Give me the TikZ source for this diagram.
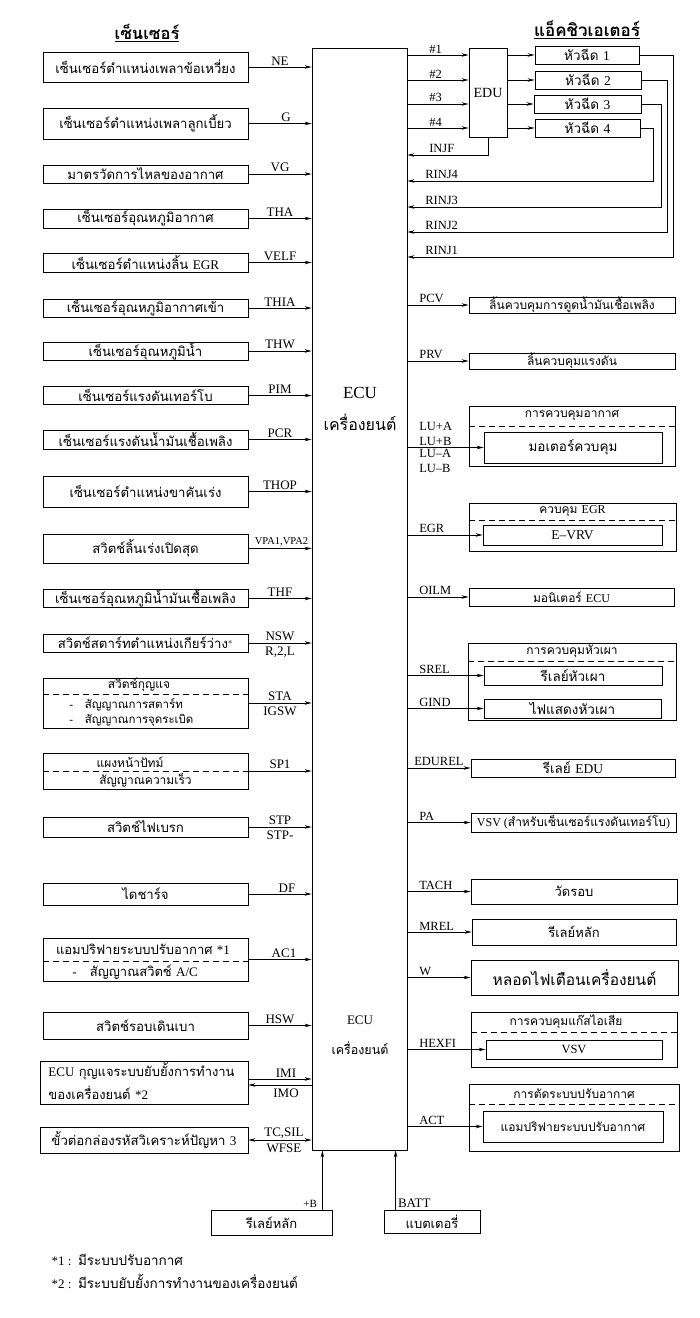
\documentclass[tikz,border=0pt]{standalone}
\usepackage{fontspec}
\setmainfont{Liberation Serif}
\newfontfamily\thaifont[Script=Thai]{Loma}
\newcommand\latn[1]{{\rmfamily #1}}
\usetikzlibrary{positioning,arrows.meta}

\begin{document}
\begin{tikzpicture}[x=1pt, y=-1pt, line width=0.8pt,
  arr/.style={-{Stealth[length=7pt,width=3.5pt]}},
  sbox/.style={draw, inner sep=0pt, minimum width=205,
               font=\thaifont\fontsize{13.2}{15}\selectfont},
  abox/.style={draw, inner sep=0pt, font=\thaifont\fontsize{12}{14}\selectfont},
  ibox/.style={abox, font=\thaifont\fontsize{13.5}{15}\selectfont},
  ttl/.style={inner sep=0pt, font=\thaifont\fontsize{12}{14}\selectfont},
  sep/.style={dash pattern=on 6pt off 4pt},
  lab/.style={midway, above, inner sep=1.5pt, font=\fontsize{13}{15}\selectfont},
  labb/.style={midway, below, inner sep=3pt, font=\fontsize{13}{15}\selectfont},
  rlab/.style={at start, anchor=south west, inner sep=1.5pt, xshift=10pt,
               font=\fontsize{12.5}{14}\selectfont},
  rback/.style={at end, anchor=south west, inner sep=1.5pt, xshift=16pt,
                font=\fontsize{12.5}{14}\selectfont},
  title/.style={font=\thaifont\bfseries\fontsize{16.5}{19}\selectfont},
  ]
  \useasboundingbox (0,0) rectangle (700,1318);

  % headings
  \node[title] (tsens) at (147,33) {\underline{เซ็นเซอร์}};
  \node[title, font=\thaifont\bfseries\fontsize{17}{19}\selectfont] (tact) at (587,30) {\underline{แอ็คชิวเอเตอร์}};

  % engine ECU
  \node[draw, inner sep=0pt, minimum width=95, minimum height=1102] (ecu) at (359.5,599) {};
  \node[font=\fontsize{17}{19}\selectfont] (ecua) at (360,393) {ECU};
  \node[font=\thaifont\fontsize{16}{18}\selectfont] (ecub) at (360,422) {เครื่องยนต์};
  \node[font=\fontsize{13}{15}\selectfont] (ecuc) at (360,1020) {ECU};
  \node[font=\thaifont\fontsize{12.5}{14}\selectfont] (ecud) at (360,1048) {เครื่องยนต์};

  % sensors
  \node[sbox, minimum height=30] (ne) at (145.5,67) {เซ็นเซอร์ตำแหน่งเพลาข้อเหวี่ยง};
  \node[sbox, minimum height=31] (g) at (145.5,123.5) {เซ็นเซอร์ตำแหน่งเพลาลูกเบี้ยว};
  \node[sbox, minimum height=18] (vg) at (145.5,174) {มาตรวัดการไหลของอากาศ};
  \node[sbox, minimum height=19] (tha) at (145.5,218.5) {เซ็นเซอร์อุณหภูมิอากาศ};
  \node[sbox, minimum height=19] (velf) at (145.5,262.5) {เซ็นเซอร์ตำแหน่งลิ้น \latn{EGR}};
  \node[sbox, minimum height=18] (thia) at (145.5,308) {เซ็นเซอร์อุณหภูมิอากาศเข้า};
  \node[sbox, minimum height=18] (thw) at (145.5,351) {เซ็นเซอร์อุณหภูมิน้ำ};
  \node[sbox, minimum height=18] (pim) at (145.5,395.5) {เซ็นเซอร์แรงดันเทอร์โบ};
  \node[sbox, minimum height=19] (pcr) at (145.5,439.5) {เซ็นเซอร์แรงดันน้ำมันเชื้อเพลิง};
  \node[sbox, minimum height=31] (thop) at (145.5,491.5) {เซ็นเซอร์ตำแหน่งขาคันเร่ง};
  \node[sbox, minimum height=29] (vpa) at (145.5,548.5) {สวิตช์ลิ้นเร่งเปิดสุด};
  \node[sbox, minimum height=17] (thf) at (145.5,598.5) {เซ็นเซอร์อุณหภูมิน้ำมันเชื้อเพลิง};
  \node[sbox, minimum height=18] (nsw) at (145.5,643) {สวิตช์สตาร์ทตำแหน่งเกียร์ว่าง\latn{$^*$}};
  \node[sbox, minimum height=50] (sta) at (145.5,703) {};
  \node[sbox, minimum height=36] (sp1) at (145.5,771) {};
  \node[sbox, minimum height=20] (stp) at (145.5,827) {สวิตช์ไฟเบรก};
  \node[sbox, minimum height=22] (df) at (145.5,894) {ไดชาร์จ};
  \node[sbox, minimum height=43] (ac1) at (145.5,959.5) {};
  \node[sbox, minimum height=27] (hsw) at (145.5,1025.5) {สวิตช์รอบเดินเบา};
  \node[sbox, minimum width=208, minimum height=43] (imi) at (144,1082.5) {};
  \node[sbox, minimum width=208, minimum height=26] (tc) at (144,1140) {ขั้วต่อกล่องรหัสวิเคราะห์ปัญหา \latn{3}};

  % split boxes
  \draw[sep] (sta.west |- 0,694) -- (sta.east |- 0,694);
  \node[ttl] (stat) at (139,685) {สวิตช์กุญแจ};
  \node[ttl, anchor=west, font=\thaifont\fontsize{11.5}{13}\selectfont] (staa) at (69,705) {\latn{-}\ \ \ สัญญาณการสตาร์ท};
  \node[ttl, anchor=west, font=\thaifont\fontsize{11.5}{13}\selectfont] (stab) at (69,720) {\latn{-}\ \ \ สัญญาณการจุดระเบิด};
  \draw[sep] (sp1.west) -- (sp1.east);
  \node[ttl] (sp1a) at (130,762) {แผงหน้าปัทม์};
  \node[ttl] (sp1b) at (145.5,780) {สัญญาณความเร็ว};
  \draw[sep] (ac1.west |- 0,961) -- (ac1.east |- 0,961);
  \node[ttl, font=\thaifont\fontsize{13}{15}\selectfont] (ac1a) at (143,949) {แอมปริฟายระบบปรับอากาศ \latn{*1}};
  \node[ttl, anchor=west, font=\thaifont\fontsize{13}{15}\selectfont] (ac1b) at (72,972) {\latn{-}\ \ \ สัญญาณสวิตช์ \latn{A/C}};
  \node[ttl, anchor=west, font=\thaifont\fontsize{13}{15}\selectfont] (imia) at (48,1071) {\latn{ECU} กุญแจระบบยับยั้งการทำงาน};
  \node[ttl, anchor=west, font=\thaifont\fontsize{13}{15}\selectfont] (imib) at (48,1093) {ของเครื่องยนต์ \latn{*2}};

  % sensor signals
  \draw[arr] (ne.east) -- node[lab]{NE} (ne -| ecu.west);
  \draw[arr] (g.east) -- node[lab, xshift=6pt]{G} (g -| ecu.west);
  \draw[arr] (vg.east) -- node[lab]{VG} (vg -| ecu.west);
  \draw[arr] (tha.east) -- node[lab]{THA} (tha -| ecu.west);
  \draw[arr] (velf.east) -- node[lab]{VELF} (velf -| ecu.west);
  \draw[arr] (thia.east) -- node[lab]{THIA} (thia -| ecu.west);
  \draw[arr] (thw.east) -- node[lab]{THW} (thw -| ecu.west);
  \draw[arr] (pim.east) -- node[lab]{PIM} (pim -| ecu.west);
  \draw[arr] (pcr.east) -- node[lab]{PCR} (pcr -| ecu.west);
  \draw[arr] (thop.east) -- node[lab]{THOP} (thop -| ecu.west);
  \draw[arr] (vpa.east) -- node[lab, font=\fontsize{10.5}{12}\selectfont, xshift=1.5pt]{VPA1,VPA2} (vpa -| ecu.west);
  \draw[arr] (thf.east) -- node[lab]{THF} (thf -| ecu.west);
  \draw[arr] (nsw.east) -- node[lab]{NSW} node[labb]{R,2,L} (nsw -| ecu.west);
  \draw[arr] (sta.east) -- node[lab]{STA} node[labb]{IGSW} (sta -| ecu.west);
  \draw[arr] (sp1.east) -- node[lab]{SP1} (sp1 -| ecu.west);
  \draw[arr] (stp.east) -- node[lab]{STP} node[labb]{STP-} (stp -| ecu.west);
  \draw[arr] (df.east) -- node[lab, xshift=7pt]{DF} (df -| ecu.west);
  \draw[arr] (ac1.east) -- node[lab, xshift=4pt]{AC1} (ac1 -| ecu.west);
  \draw[arr] (hsw.east) -- node[lab]{HSW} (hsw -| ecu.west);
  \draw[arr] ([yshift=3.5pt]imi.east) -- node[lab, xshift=6pt]{IMI} ([yshift=3.5pt]imi.east -| ecu.west);
  \draw[arr] ([yshift=-2.5pt]imi.east -| ecu.west) -- node[labb, xshift=6pt]{IMO} ([yshift=-2.5pt]imi.east);
  \draw[{Stealth[length=7pt,width=3.5pt]}-{Stealth[length=7pt,width=3.5pt]}] (tc.east) -- node[lab, xshift=4pt]{TC,SIL} node[labb, xshift=4pt]{WFSE} (tc -| ecu.west);

  % injectors and EDU
  \node[abox, minimum width=38, minimum height=89, font=\fontsize{14}{16}\selectfont] (edu) at (488,92.5) {EDU};
  \node[ibox, minimum width=104, minimum height=18] (inj1) at (587,55) {หัวฉีด \latn{1}};
  \node[ibox, minimum width=106, minimum height=18] (inj2) at (588,80) {หัวฉีด \latn{2}};
  \node[ibox, minimum width=107, minimum height=18] (inj3) at (587.5,104) {หัวฉีด \latn{3}};
  \node[ibox, minimum width=105, minimum height=18] (inj4) at (587.5,128) {หัวฉีด \latn{4}};

  \draw[arr] (inj1 -| ecu.east) -- node[rlab, xshift=10pt]{\#1} (inj1 -| edu.west);
  \draw[arr] (inj2 -| ecu.east) -- node[rlab, xshift=10pt]{\#2} (inj2 -| edu.west);
  \draw[arr] (inj3 -| ecu.east) -- node[rlab, xshift=10pt]{\#3} (inj3 -| edu.west);
  \draw[arr] (inj4 -| ecu.east) -- node[rlab, xshift=10pt]{\#4} (inj4 -| edu.west);
  \draw[arr] (inj1 -| edu.east) -- (inj1.west);
  \draw[arr] (inj2 -| edu.east) -- (inj2.west);
  \draw[arr] (inj3 -| edu.east) -- (inj3.west);
  \draw[arr] (inj4 -| edu.east) -- (inj4.west);

  \coordinate (cf) at (488,155);
  \coordinate (c4) at (653,181);
  \coordinate (c3) at (661,207);
  \coordinate (c2) at (667,232);
  \coordinate (c1) at (673,257);
  \draw[arr] (edu.south) -- (cf) -- node[rback, xshift=4pt]{INJF} (cf -| ecu.east);
  \draw[arr] (inj4.east) -| (c4) -- node[rback]{RINJ4} (c4 -| ecu.east);
  \draw[arr] (inj3.east) -| (c3) -- node[rback]{RINJ3} (c3 -| ecu.east);
  \draw[arr] (inj2.east) -| (c2) -- node[rback]{RINJ2} (c2 -| ecu.east);
  \draw[arr] (inj1.east) -| (c1) -- node[rback]{RINJ1} (c1 -| ecu.east);

  % actuators
  \node[abox, minimum width=206, minimum height=16] (pcv) at (572,305) {ลิ้นควบคุมการดูดน้ำมันเชื้อเพลิง};
  \node[abox, minimum width=206, minimum height=16] (prv) at (572,361) {ลิ้นควบคุมแรงดัน};
  \node[abox, minimum width=206, minimum height=60] (air) at (572,436) {};
  \node[ibox, minimum width=178, minimum height=31] (mot) at (573,447.5) {มอเตอร์ควบคุม};
  \node[abox, minimum width=207, minimum height=48] (egr) at (572.5,527) {};
  \node[ibox, minimum width=179, minimum height=20] (evrv) at (572.5,535) {\latn{E–VRV}};
  \node[abox, minimum width=205, minimum height=18] (oilm) at (571.5,597) {มอนิเตอร์ \latn{ECU}};
  \node[abox, minimum width=208, minimum height=77] (glow) at (572,681.5) {};
  \node[ibox, minimum width=178, minimum height=19] (srel) at (573,675.5) {รีเลย์หัวเผา};
  \node[ibox, minimum width=177, minimum height=19] (gind) at (572.5,708.5) {ไฟแสดงหัวเผา};
  \node[ibox, minimum width=204, minimum height=18] (edurel) at (573,768) {รีเลย์ \latn{EDU}};
  \node[abox, minimum width=205, minimum height=19] (pa) at (573.5,822.5) {\latn{VSV (}สำหรับเซ็นเซอร์แรงดันเทอร์โบ\latn{)}};
  \node[abox, minimum width=206, minimum height=25, font=\thaifont\fontsize{13}{15}\selectfont] (tach) at (574,891.5) {วัดรอบ};
  \node[abox, minimum width=204, minimum height=26, font=\thaifont\fontsize{13}{15}\selectfont] (mrel) at (574,932) {รีเลย์หลัก};
  \node[abox, minimum width=207, minimum height=35, font=\thaifont\fontsize{15.5}{17}\selectfont] (warn) at (574.5,977.5) {หลอดไฟเตือนเครื่องยนต์};
  \node[abox, minimum width=206, minimum height=55] (exh) at (574,1039.5) {};
  \node[abox, minimum width=176, minimum height=19, font=\fontsize{12.5}{14}\selectfont] (vsv) at (574,1049.5) {VSV};
  \node[abox, minimum width=210, minimum height=67] (acc) at (574,1117.5) {};
  \node[abox, minimum width=180, minimum height=31] (amp) at (573,1126.5) {แอมปริฟายระบบปรับอากาศ};

  \draw[sep] (air.west |- 0,426) -- (air.east |- 0,426);
  \draw[sep] (egr.west |- 0,520) -- (egr.east |- 0,520);
  \draw[sep] (glow.west |- 0,661) -- (glow.east |- 0,661);
  \draw[sep] (exh.west |- 0,1032) -- (exh.east |- 0,1032);
  \draw[sep] (acc.west |- 0,1104) -- (acc.east |- 0,1104);
  \node[ttl] (airt) at (572,415) {การควบคุมอากาศ};
  \node[ttl] (egrt) at (572.5,511) {ควบคุม \latn{EGR}};
  \node[ttl] (glowt) at (572,651) {การควบคุมหัวเผา};
  \node[ttl] (exht) at (566,1022) {การควบคุมแก๊สไอเสีย};
  \node[ttl] (acct) at (574,1094) {การตัดระบบปรับอากาศ};

  \draw[arr] (pcv -| ecu.east) -- node[rlab]{PCV} (pcv.west);
  \draw[arr] (prv -| ecu.east) -- node[rlab]{PRV} (prv.west);
  \draw[arr] (mot -| ecu.east) -- node[rlab, align=left, font=\fontsize{12.5}{14.5}\selectfont]{LU+A\\LU+B}
    node[rlab, anchor=north west, align=left, font=\fontsize{12.5}{14.5}\selectfont]{LU–A\\LU–B} (mot.west);
  \draw[arr] (evrv -| ecu.east) -- node[rlab]{EGR} (evrv.west);
  \draw[arr] (oilm -| ecu.east) -- node[rlab]{OILM} (oilm.west);
  \draw[arr] (srel -| ecu.east) -- node[rlab]{SREL} (srel.west);
  \draw[arr] (gind -| ecu.east) -- node[rlab]{GIND} (gind.west);
  \draw[arr] (edurel -| ecu.east) -- node[rlab, xshift=-5pt]{EDUREL} (edurel.west);
  \draw[arr] (pa -| ecu.east) -- node[rlab]{PA} (pa.west);
  \draw[arr] (tach -| ecu.east) -- node[rlab]{TACH} (tach.west);
  \draw[arr] (mrel -| ecu.east) -- node[rlab]{MREL} (mrel.west);
  \draw[arr] (warn -| ecu.east) -- node[rlab]{W} (warn.west);
  \draw[arr] (vsv -| ecu.east) -- node[rlab]{HEXFI} (vsv.west);
  \draw[arr] (amp -| ecu.east) -- node[rlab]{ACT} (amp.west);

  % power supply
  \node[abox, minimum width=121, minimum height=25, font=\thaifont\fontsize{13}{15}\selectfont] (mainrly) at (271.5,1222.5) {รีเลย์หลัก};
  \node[abox, minimum width=96, minimum height=23, font=\thaifont\fontsize{13}{15}\selectfont] (batt) at (432,1221.5) {แบตเตอรี่};
  \draw[arr] ([xshift=-10pt]mainrly.north east) -- node[at start, anchor=south east, inner sep=2pt, xshift=-3pt, font=\fontsize{11}{13}\selectfont]{+B}
    ([xshift=-10pt]mainrly.north east |- ecu.south);
  \draw[arr] ([xshift=12pt]batt.north west) -- node[at start, anchor=south west, inner sep=2pt, font=\fontsize{13}{15}\selectfont]{BATT}
    ([xshift=12pt]batt.north west |- ecu.south);

  % notes
  \node[anchor=west, font=\fontsize{13}{15}\selectfont] (fn1) at (48,1260) {*1 :\ \ {\thaifont\fontsize{13.5}{15}\selectfont มีระบบปรับอากาศ}};
  \node[anchor=west, font=\fontsize{13}{15}\selectfont] (fn2) at (48,1281) {*2 :\ \ {\thaifont\fontsize{13.5}{15}\selectfont มีระบบยับยั้งการทำงานของเครื่องยนต์}};
\end{tikzpicture}
\end{document}
